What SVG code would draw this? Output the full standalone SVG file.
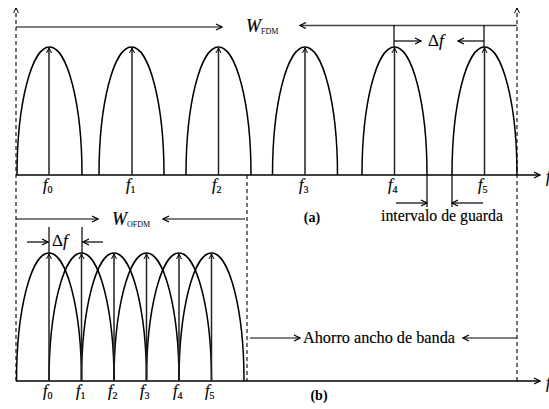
<svg xmlns="http://www.w3.org/2000/svg" width="549" height="409" viewBox="0 0 549 409">
<defs>
<marker id="ah" markerWidth="8" markerHeight="8" refX="7" refY="4" orient="auto" markerUnits="userSpaceOnUse">
<path d="M1,1 L7,4 L1,7" fill="none" stroke="#000" stroke-width="1.2"/>
</marker>
<marker id="ahs" markerWidth="8" markerHeight="8" refX="6" refY="3.5" orient="auto" markerUnits="userSpaceOnUse">
<path d="M1,1 L6,3.5 L1,6" fill="none" stroke="#000" stroke-width="1"/>
</marker>
<style>
.ax{stroke:#000;stroke-width:1.4;fill:none}
.dash{stroke:#000;stroke-width:1.1;stroke-dasharray:4,3;fill:none}
.arch{stroke:#000;stroke-width:1.5;fill:none}
.car{stroke:#222;stroke-width:1.5;fill:none}
.ln{stroke:#000;stroke-width:1.2;fill:none}
.gr{stroke:#444;stroke-width:1.7;fill:none}
.t{font-family:"Liberation Serif","DejaVu Serif",serif;fill:#000}
.fi{font-family:"Liberation Serif","DejaVu Serif",serif;font-style:italic;font-size:16px;fill:#000;stroke:#000;stroke-width:0.2}
.sub{font-family:"Liberation Serif","DejaVu Serif",serif;font-size:10px;font-style:normal;fill:#000}
.lb{font-family:"Liberation Serif","DejaVu Serif",serif;font-size:16px;fill:#000;stroke:#000;stroke-width:0.15}
</style>
</defs>
<rect width="549" height="409" fill="#fff"/>

<g id="connectors">
<path class="dash" d="M16,381 V8" marker-end="url(#ahs)"/>
<path class="dash" d="M517,381 V8" marker-end="url(#ahs)"/>
<path class="dash" d="M247,175 V381"/>
<path class="ax" d="M16,175 H540" marker-end="url(#ah)"/>
<path class="ax" d="M16,381 H540" marker-end="url(#ah)"/>
<path class="ln" d="M16,27 H222" marker-end="url(#ah)"/>
<path class="gr" d="M517,25.5 H300" marker-end="url(#ah)"/>
<path class="ln" d="M394,25 V47"/>
<path class="ln" d="M484,25 V47"/>
<path class="ln" d="M394,41 H421" marker-end="url(#ah)"/>
<path class="ln" d="M484,41 H458" marker-end="url(#ah)"/>
<path class="ln" d="M427,175 V207"/>
<path class="ln" d="M452,175 V207"/>
<path class="ln" d="M396,203 H427" marker-end="url(#ah)"/>
<path class="ln" d="M483,203 H452" marker-end="url(#ah)"/>
<path class="ln" d="M16,219 H98" marker-end="url(#ah)"/>
<path class="ln" d="M245,219 H163" marker-end="url(#ah)"/>
<path class="ln" d="M49,227 V253"/>
<path class="ln" d="M82,227 V253"/>
<path class="ln" d="M27,242 H48" marker-end="url(#ah)"/>
<path class="ln" d="M103,242 H83" marker-end="url(#ah)"/>
<path class="ln" d="M250,338 H300" marker-end="url(#ah)"/>
<path class="ln" d="M517,338 H463" marker-end="url(#ah)"/>
</g>

<g id="fdm-carriers">
<path class="arch" d="M17,175 A32.5,128 0 0 1 82,175"/>
<path class="arch" d="M99,175 A32.5,128 0 0 1 164,175"/>
<path class="arch" d="M186,175 A32.5,128 0 0 1 251,175"/>
<path class="arch" d="M272.5,175 A32.5,128 0 0 1 337.5,175"/>
<path class="arch" d="M362,175 A32.5,128 0 0 1 427,175"/>
<path class="arch" d="M452,175 A32.5,128 0 0 1 517,175"/>
<path class="car" d="M49,175 V48" marker-end="url(#ahs)"/>
<path class="car" d="M132,175 V48" marker-end="url(#ahs)"/>
<path class="car" d="M218.5,175 V48" marker-end="url(#ahs)"/>
<path class="car" d="M305,175 V48" marker-end="url(#ahs)"/>
<path class="car" d="M394.5,175 V48" marker-end="url(#ahs)"/>
<path class="car" d="M484.5,175 V48" marker-end="url(#ahs)"/>
</g>

<g id="ofdm-carriers">
<path class="arch" d="M16.5,381 A32.5,128 0 0 1 81.5,381"/>
<path class="arch" d="M49,381 A32.5,128 0 0 1 114,381"/>
<path class="arch" d="M81.5,381 A32.5,128 0 0 1 146.5,381"/>
<path class="arch" d="M114,381 A32.5,128 0 0 1 179,381"/>
<path class="arch" d="M146.5,381 A32.5,128 0 0 1 211.5,381"/>
<path class="arch" d="M179,381 A32.5,128 0 0 1 244,381"/>
<path class="car" d="M49,381 V254" marker-end="url(#ahs)"/>
<path class="car" d="M81.5,381 V254" marker-end="url(#ahs)"/>
<path class="car" d="M114,381 V254" marker-end="url(#ahs)"/>
<path class="car" d="M146.5,381 V254" marker-end="url(#ahs)"/>
<path class="car" d="M179,381 V254" marker-end="url(#ahs)"/>
<path class="car" d="M211.5,381 V254" marker-end="url(#ahs)"/>
</g>

<g id="labels-a">
<text class="fi" x="43" y="190">f<tspan class="sub" dy="3">0</tspan></text>
<text class="fi" x="126" y="190">f<tspan class="sub" dy="3">1</tspan></text>
<text class="fi" x="212" y="190">f<tspan class="sub" dy="3">2</tspan></text>
<text class="fi" x="299" y="190">f<tspan class="sub" dy="3">3</tspan></text>
<text class="fi" x="388" y="190">f<tspan class="sub" dy="3">4</tspan></text>
<text class="fi" x="478" y="190">f<tspan class="sub" dy="3">5</tspan></text>
<text class="fi" x="546" y="182">f</text>
<text class="t" x="246" y="32" font-size="18" font-style="italic" stroke="#000" stroke-width="0.2">W<tspan font-size="8" font-style="normal" dy="2" stroke-width="0">FDM</tspan></text>
<text class="t" x="428" y="46" font-size="17" stroke="#000" stroke-width="0.15">Δ<tspan font-style="italic">f</tspan></text>
<text class="t" x="312" y="222" font-size="14" font-weight="bold" text-anchor="middle">(a)</text>
<text class="lb" x="381" y="221" textLength="122" lengthAdjust="spacingAndGlyphs">intervalo de guarda</text>
</g>

<g id="labels-b">
<text class="fi" x="43" y="396">f<tspan class="sub" dy="3">0</tspan></text>
<text class="fi" x="76" y="396">f<tspan class="sub" dy="3">1</tspan></text>
<text class="fi" x="108" y="396">f<tspan class="sub" dy="3">2</tspan></text>
<text class="fi" x="140" y="396">f<tspan class="sub" dy="3">3</tspan></text>
<text class="fi" x="173" y="396">f<tspan class="sub" dy="3">4</tspan></text>
<text class="fi" x="205" y="396">f<tspan class="sub" dy="3">5</tspan></text>
<text class="fi" x="546" y="388">f</text>
<text class="t" x="112" y="225" font-size="18" font-style="italic" stroke="#000" stroke-width="0.2">W<tspan font-size="8" font-style="normal" dy="2" stroke-width="0">OFDM</tspan></text>
<text class="t" x="52" y="246" font-size="17" stroke="#000" stroke-width="0.15">Δ<tspan font-style="italic">f</tspan></text>
<text class="lb" x="303" y="343" textLength="152" lengthAdjust="spacingAndGlyphs">Ahorro ancho de banda</text>
<text class="t" x="319" y="400" font-size="14" font-weight="bold" text-anchor="middle">(b)</text>
</g>
</svg>
